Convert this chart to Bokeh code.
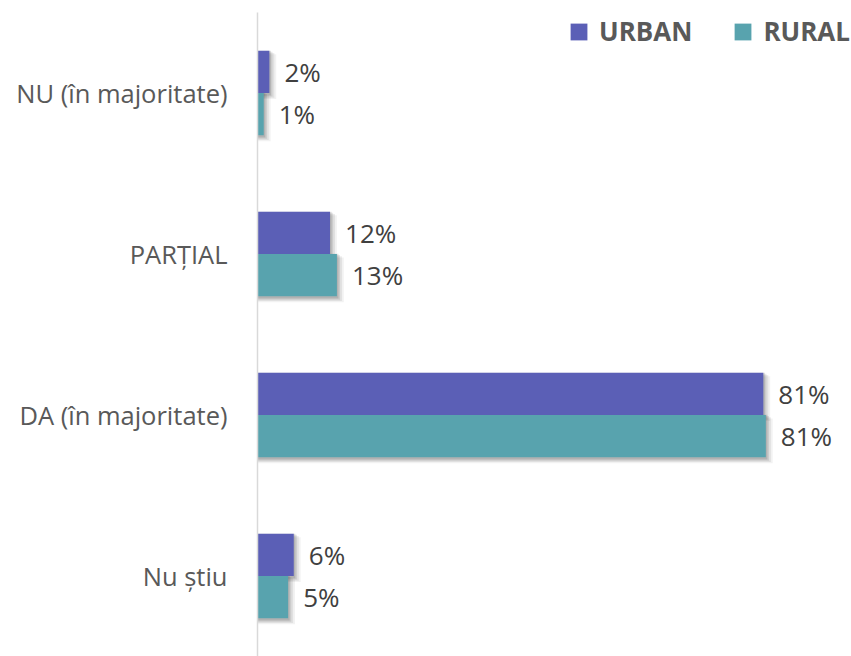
from bokeh.plotting import figure
from bokeh.models import FactorRange, Range1d, ColumnDataSource, Legend, LegendItem
from bokeh.transform import dodge
from bokeh.core.properties import value
from bokeh.embed import file_html
from bokeh.resources import INLINE

categories = ["NU (în majoritate)", "PARȚIAL", "DA (în majoritate)", "Nu știu"]
urban = [1.9, 11.6, 80.9, 5.8]
rural = [1.0, 12.7, 81.3, 4.9]
series_names = ["URBAN", "RURAL"]
colors = ["#5B5FB6", "#58A3AE"]

FONT = "Open Sans"

p = figure(width=851, height=656, output_backend="svg", toolbar_location=None,
           y_range=FactorRange(factors=list(reversed(categories))),
           x_range=Range1d(0, 95), x_axis_location=None,
           min_border_left=257, min_border_right=0, min_border_top=12, min_border_bottom=0)
p.outline_line_color = None
p.grid.visible = False
p.background_fill_color = "white"

src = ColumnDataSource(dict(
    cat=categories, urban=urban, rural=rural,
    ulab=[f"{round(v)}%" for v in urban], rlab=[f"{round(v)}%" for v in rural]))

H = 0.262
offs = {"urban": 0.131, "rural": -0.131}

renderers = []
for key in ["urban", "rural"]:
    # soft shadow layers
    for dx, dy, a in [(1.1, -0.03, 0.05), (0.8, -0.022, 0.07), (0.5, -0.014, 0.09), (0.25, -0.007, 0.12)]:
        p.hbar(y=dodge("cat", offs[key] + dy, range=p.y_range), left=0,
               right=dodge(key, dx), height=H + 0.016,
               source=src, fill_color="#000000", fill_alpha=a, line_color=None)
for key, col in zip(["urban", "rural"], colors):
    r = p.hbar(y=dodge("cat", offs[key], range=p.y_range), left=0, right=key, height=H,
               source=src, fill_color=col, line_color=None)
    renderers.append(r)
    p.text(x=key, y=dodge("cat", offs[key], range=p.y_range),
           text="ulab" if key == "urban" else "rlab", source=src,
           x_offset=15, text_baseline="middle", text_align="left",
           text_font=value(FONT), text_font_size="26px", text_color="#404040")

yax = p.yaxis[0]
yax.axis_line_color = "#D9D9D9"
yax.axis_line_width = 1.5
yax.major_tick_line_color = None
yax.minor_tick_line_color = None
yax.major_label_text_font = FONT
yax.major_label_text_font_size = "25.5px"
yax.major_label_text_color = "#595959"
yax.major_label_standoff = 24

legend = Legend(items=[LegendItem(label=n, renderers=[r]) for n, r in zip(series_names, renderers)],
                orientation="horizontal", location="top_right")
legend.border_line_color = None
legend.background_fill_alpha = 0
legend.label_text_font = FONT
legend.label_text_font_style = "bold"
legend.label_text_font_size = "26px"
legend.label_text_color = "#595959"
legend.glyph_width = 21
legend.glyph_height = 21
legend.label_standoff = 10
legend.spacing = 40
legend.padding = 0
legend.margin = 1
p.add_layout(legend)

open("out.html", "w").write(file_html(p, INLINE))
